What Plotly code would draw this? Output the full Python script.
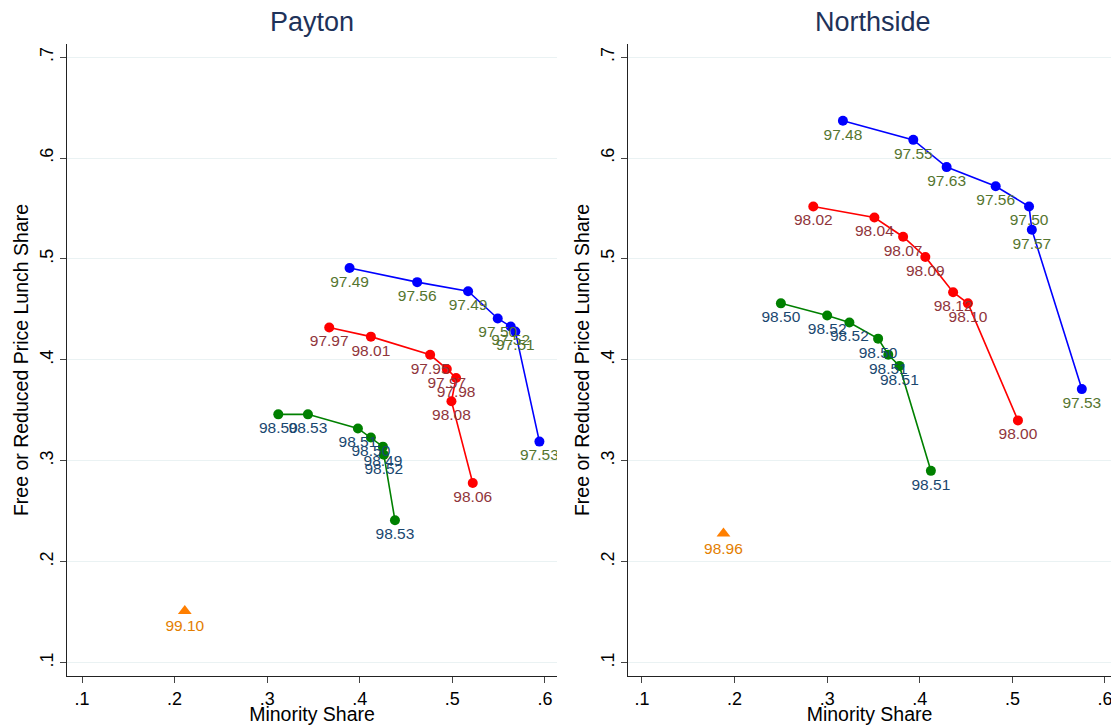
import plotly.graph_objects as go

# Payton: minority share, frl share and accuracy labels per series
paytonBlueX = [0.389, 0.462, 0.517, 0.549, 0.563, 0.568, 0.594]
paytonBlueY = [0.491, 0.477, 0.468, 0.441, 0.433, 0.428, 0.319]
paytonBlueLab = ["97.49", "97.56", "97.49", "97.50", "97.52", "97.51", "97.53"]

paytonRedX = [0.367, 0.412, 0.476, 0.494, 0.504, 0.499, 0.522]
paytonRedY = [0.432, 0.423, 0.405, 0.391, 0.382, 0.359, 0.278]
paytonRedLab = ["97.97", "98.01", "97.95", "97.97", "97.98", "98.08", "98.06"]

paytonGreenX = [0.312, 0.344, 0.398, 0.412, 0.425, 0.426, 0.438]
paytonGreenY = [0.346, 0.346, 0.332, 0.323, 0.314, 0.306, 0.241]
paytonGreenLab = ["98.50", "98.53", "98.51", "98.50", "98.49", "98.52", "98.53"]

paytonActualX = [0.211]
paytonActualY = [0.151]
paytonActualLab = ["99.10"]

# Northside
northBlueX = [0.317, 0.393, 0.429, 0.482, 0.518, 0.521, 0.575]
northBlueY = [0.637, 0.618, 0.591, 0.572, 0.552, 0.529, 0.371]
northBlueLab = ["97.48", "97.55", "97.63", "97.56", "97.50", "97.57", "97.53"]

northRedX = [0.285, 0.351, 0.382, 0.406, 0.436, 0.452, 0.506]
northRedY = [0.552, 0.541, 0.522, 0.502, 0.467, 0.456, 0.340]
northRedLab = ["98.02", "98.04", "98.07", "98.09", "98.12", "98.10", "98.00"]

northGreenX = [0.250, 0.300, 0.324, 0.355, 0.366, 0.378, 0.412]
northGreenY = [0.456, 0.444, 0.437, 0.421, 0.405, 0.394, 0.290]
northGreenLab = ["98.50", "98.52", "98.52", "98.50", "98.51", "98.51", "98.51"]

northActualX = [0.188]
northActualY = [0.228]
northActualLab = ["98.96"]

panelTitles = ["Payton", "Northside"]
tickVals = [0.1, 0.2, 0.3, 0.4, 0.5, 0.6, 0.7]
tickText = [".1", ".2", ".3", ".4", ".5", ".6", ".7"]

W, H = 1111, 725
fontFam = "Liberation Sans, Arial, sans-serif"
labelSize = 15.5


def addSeries(fig, x, y, labels, lineCol, labCol, xa, ya, symbol="circle", lines=True):
    fig.add_trace(go.Scatter(x=x, y=y, text=labels, mode="lines+markers+text" if lines else "markers+text",
                             textposition="bottom center",
                             textfont=dict(color=labCol, size=labelSize, family=fontFam),
                             marker=dict(color=lineCol, size=12 if symbol != "circle" else 10, symbol=symbol),
                             line=dict(color=lineCol, width=1.6),
                             xaxis=xa, yaxis=ya, showlegend=False, hoverinfo="skip"))


fig = go.Figure()

# left panel
addSeries(fig, paytonBlueX, paytonBlueY, paytonBlueLab, "#0000ff", "#55752f", "x", "y")
addSeries(fig, paytonRedX, paytonRedY, paytonRedLab, "#ff0000", "#90353b", "x", "y")
addSeries(fig, paytonGreenX, paytonGreenY, paytonGreenLab, "#008000", "#1a476f", "x", "y")
addSeries(fig, paytonActualX, paytonActualY, paytonActualLab, "#ff7f00", "#e37e00", "x", "y",
          symbol="triangle-up", lines=False)

# right panel
addSeries(fig, northBlueX, northBlueY, northBlueLab, "#0000ff", "#55752f", "x2", "y2")
addSeries(fig, northRedX, northRedY, northRedLab, "#ff0000", "#90353b", "x2", "y2")
addSeries(fig, northGreenX, northGreenY, northGreenLab, "#008000", "#1a476f", "x2", "y2")
addSeries(fig, northActualX, northActualY, northActualLab, "#ff7f00", "#e37e00", "x2", "y2",
          symbol="triangle-up", lines=False)

# pixel positions of the plot regions
leftDom = [67 / W, 557 / W]
rightDom = [628 / W, 1.0]

xCommon = dict(tickvals=tickVals[:6], ticktext=tickText[:6], ticks="outside", ticklen=6, tickcolor="#444",
               showline=True, linecolor="#222", linewidth=1.2, showgrid=False, zeroline=False, automargin=False,
               ticklabeloverflow="allow",
               tickfont=dict(size=18, color="black", family=fontFam),
               title=dict(text="Minority Share", font=dict(size=19.5, color="black", family=fontFam), standoff=2))
yCommon = dict(tickvals=tickVals, ticktext=tickText, ticks="outside", ticklen=6, tickcolor="#444",
               showline=True, linecolor="#222", linewidth=1.2, showgrid=True, gridcolor="#eaf2f3", gridwidth=1.2,
               zeroline=False, tickangle=-90, range=[0.0867, 0.713], automargin=False,
               tickfont=dict(size=18, color="black", family=fontFam),
               title=dict(text="Free or Reduced Price Lunch Share", font=dict(size=19.5, color="black", family=fontFam),
                          standoff=2))

fig.update_layout(
    width=W, height=H,
    margin=dict(l=0, r=0, t=44, b=49),
    paper_bgcolor="white", plot_bgcolor="white",
    showlegend=False, hovermode=False,
    xaxis=dict(domain=leftDom, range=[0.0838, 0.613], anchor="y", **xCommon),
    yaxis=dict(domain=[0, 1], anchor="x", **yCommon),
    xaxis2=dict(domain=rightDom, range=[0.0849, 0.6065], anchor="y2", **xCommon),
    yaxis2=dict(domain=[0, 1], anchor="x2", **yCommon),
)

# panel titles
for t, cx in zip(panelTitles, [312 / W, 873 / W]):
    fig.add_annotation(text=t, x=cx, y=1 + 22 / 632, xref="paper", yref="paper", showarrow=False,
                       xanchor="center", yanchor="middle", font=dict(size=27, color="#1e3259", family=fontFam))

# drop the browser's default body margin so the figure sits at the page corner
fig.write_html("out.html", config=dict(displayModeBar=False),
               post_script="document.body.style.margin='0';document.body.style.overflow='hidden';")
